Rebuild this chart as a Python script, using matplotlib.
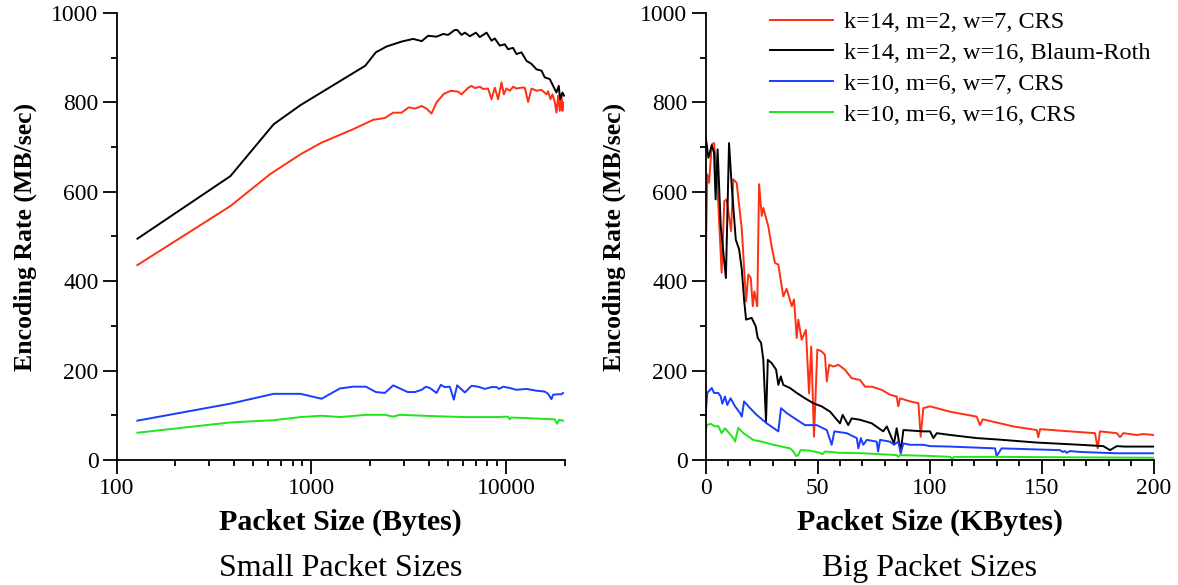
import matplotlib
matplotlib.use("Agg")
import matplotlib.pyplot as plt
from matplotlib.ticker import MultipleLocator, LogLocator, NullFormatter, FixedLocator

plt.rcParams['font.family'] = ['Liberation Serif', 'DejaVu Serif']

#---Data: small packet sizes (bytes) -----------------------------------
small_black_x = [128, 384, 640, 880, 1890, 2140, 2430, 2900, 3330, 3680, 3970, 4390, 4740,
                 5030, 5440, 5600, 5890, 6130, 6500, 6980, 7310, 7920, 8400, 8730, 9260, 9820,
                 10210, 10830, 11280, 11960, 12690, 13470, 14280, 15160, 15740, 16720, 17390,
                 18080, 18590, 18880, 19420, 19780]
small_black_y = [495, 635, 751, 794, 882, 912, 925, 936, 942, 937, 949, 947, 953,
                 951, 962, 962, 951, 956, 948, 956, 946, 956, 938, 943, 927, 930,
                 919, 922, 908, 912, 893, 886, 874, 871, 856, 852, 837,
                 822, 837, 807, 822, 815]

small_red_x = [128, 384, 612, 880, 1128, 1638, 2075, 2382, 2627, 2900, 3162, 3395, 3680,
               3897, 4133, 4387, 4780, 5190, 5660, 5893, 6347, 6630, 6893, 7313, 7603, 8066,
               8400, 8730, 9078, 9450, 9710, 10020, 10420, 10840, 11280, 11970, 12440, 12940,
               13470, 14280, 15150, 16080, 16380, 16860, 17260, 17740, 18090, 18440, 18810,
               19190, 19420, 19560]
small_red_y = [436, 568, 639, 684, 710, 740, 761, 765, 777, 777, 789, 786, 792,
               786, 775, 800, 819, 826, 824, 818, 832, 837, 832, 835, 830, 831,
               807, 833, 807, 845, 818, 831, 826, 835, 831, 833, 833, 801,
               831, 826, 828, 818, 825, 807, 818, 800, 777, 815, 781,
               818, 781, 800]

small_blue_x = [128, 384, 640, 880, 1128, 1400, 1638, 1903, 2142, 2382, 2627, 3120, 3395,
                3680, 3870, 4053, 4387, 4614, 4837, 5130, 5380, 5595, 6127, 6630, 7170, 7760,
                8400, 8910, 9185, 9630, 10420, 11280, 12690, 13470, 14280, 15750, 16380,
                17050, 17380, 18440, 19190, 19560]
small_blue_y = [88, 126, 148, 148, 137, 160, 164, 164, 152, 150, 167, 152, 152,
                157, 164, 161, 150, 168, 163, 164, 135, 167, 151, 166, 164, 159,
                163, 163, 159, 164, 161, 157, 159, 157, 155, 153, 148,
                136, 146, 147, 147, 150]

small_green_x = [128, 384, 640, 880, 1128, 1400, 1903, 2382, 2627, 2843, 3743, 5130, 6127,
                 8910, 10210, 10420, 10630, 13720, 17740, 18220, 18660, 19560]
small_green_y = [61, 84, 89, 96, 99, 96, 101, 101, 97, 101, 99, 97, 96,
                 96, 97, 91, 95, 93, 91, 81, 90, 88]

#---Data: big packet sizes (KBytes) ------------------------------------
big_red_x = [0, 0.8, 1.6, 2.8, 3.8, 5, 7.2, 8.4, 9.4, 11.4, 12.4, 13.9, 16.2, 18.1, 19.1,
             20.2, 21.1, 21.8, 23.1, 23.9, 25.1, 25.8, 28, 29.5, 31, 32.5, 34.7, 36.2, 38.5,
             39.5, 40.7, 41.4, 42.9, 44.8, 46.2, 47.2, 48.4, 49.9, 51.8, 53.3, 54.1, 55.2,
             57, 59.3, 62.2, 65.2, 68.9, 71.2, 74.2, 78.6, 82.3, 85.3, 86, 86.8, 91.3, 95,
             96, 97.2, 100.2, 109.1, 121, 122.5, 123.7, 137.4, 147.8, 148.5, 149.3, 162.6,
             173.8, 175, 176, 183.5, 185, 186.4, 192.4, 195.4, 200]
big_red_y = [411, 639, 620, 706, 709, 643, 419, 579, 583, 512, 628, 620, 516, 355, 415,
             407, 344, 377, 344, 617, 546, 564, 523, 478, 441, 437, 366, 383, 344,
             359, 273, 314, 269, 291, 149, 254, 52, 247, 243, 235, 176, 213,
             209, 213, 202, 183, 179, 164, 164, 157, 146, 142, 120, 138, 131, 127,
             52, 116, 120, 108, 97, 78, 91, 75, 67, 51, 69, 64,
             60, 26, 64, 60, 51, 60, 56, 58, 56]

big_black_x = [0.2, 1.3, 2.8, 3.8, 4.5, 5.4, 6.8, 9.1, 10.5, 11.7, 13.5, 15, 16.2, 17.2,
               18.1, 20.6, 22.4, 23.3, 24.8, 25.8, 27, 27.8, 29.5, 31.5, 32.5, 33.6, 34.7,
               37.7, 40.7, 44.4, 48.1, 51.8, 55.6, 60, 61.2, 63.7, 65.2, 68.9, 74.2, 79.3,
               80.9, 84.1, 85.3, 87.1, 88.3, 97.2, 100.2, 101.7, 103.2, 109.1, 121, 129.9,
               147.8, 167.1, 177.5, 180.5, 183.5, 186.9, 200]
big_black_y = [719, 676, 704, 688, 583, 695, 523, 407, 709, 613, 493, 471, 426, 359,
               314, 318, 299, 273, 262, 224, 86, 224, 217, 202, 168, 187, 168,
               161, 150, 138, 127, 120, 108, 82, 101, 78, 93, 90, 82, 64,
               75, 37, 71, 19, 67, 64, 64, 49, 60, 56, 49, 46,
               39, 34, 31, 22, 31, 30, 30]

big_blue_x = [0, 0.8, 2.8, 3.8, 5.7, 6.8, 7.5, 8.7, 9.7, 11.2, 13.2, 15.4, 16.2, 17.2,
              19.9, 22.8, 27.3, 32.5, 33.7, 36.2, 40.7, 44.4, 49.6, 54.1, 56.3, 57.5, 63,
              67.5, 68.2, 69.3, 70.4, 72, 76.4, 77, 77.9, 82.3, 84.1, 86, 87.1, 88.3, 91.3,
              97.2, 100.2, 109.1, 129.2, 129.9, 132.1, 158.2, 159.4, 160.4, 161.2, 162.6,
              167.1, 183.5, 200]
big_blue_y = [97, 150, 161, 150, 150, 142, 126, 142, 123, 138, 120, 105, 97, 131,
              116, 101, 82, 64, 116, 105, 90, 78, 78, 67, 34, 64, 60,
              49, 26, 49, 34, 45, 41, 19, 45, 41, 34, 41, 15, 37, 34,
              34, 31, 30, 26, 9, 26, 22, 18, 20, 16, 20,
              18, 15, 15]

big_green_x = [0, 0.5, 2.3, 4.3, 5.7, 7.2, 8.7, 12.4, 13.2, 14.6, 16.9, 21.3, 25.1, 30.3,
               37.7, 39.2, 40.4, 41.4, 42.4, 46.6, 51, 52.2, 53.3, 60, 70.4, 85.3, 86, 86.8,
               100.2, 109.1, 110, 111, 129.9, 162.6, 200]
big_green_y = [60, 78, 81, 75, 76, 60, 71, 49, 41, 72, 60, 45, 41, 34,
               26, 19, 9, 11, 22, 21, 16, 13, 19, 16, 15, 11, 7, 11,
               9, 7, 3, 7, 7, 6, 5]

series_labels = ["k=14, m=2, w=7, CRS", "k=14, m=2, w=16, Blaum-Roth",
                 "k=10, m=6, w=7, CRS", "k=10, m=6, w=16, CRS"]
series_colors = ["#ff3011", "black", "#1a3cff", "#1ee61a"]


def style_axes(ax):
    for side in ("top", "right"):
        ax.spines[side].set_visible(False)
    for side in ("left", "bottom"):
        ax.spines[side].set_linewidth(1.3)
    ax.set_ylim(0, 1000)
    ax.yaxis.set_major_locator(MultipleLocator(200))
    ax.yaxis.set_minor_locator(MultipleLocator(100))
    ax.tick_params(which="major", direction="out", length=10, width=1.3, labelsize=17, pad=3)
    ax.tick_params(which="minor", direction="out", length=4.5, width=1.3)
    ax.set_ylabel("Encoding Rate (MB/sec)", fontsize=18.5, fontweight="bold")


fig = plt.figure(figsize=(11.78, 5.85), dpi=100)
ax1 = fig.add_axes([0.0989, 0.2137, 0.3807, 0.7641])
ax2 = fig.add_axes([0.5989, 0.2137, 0.3805, 0.7641])

small = [(small_red_x, small_red_y), (small_black_x, small_black_y),
         (small_blue_x, small_blue_y), (small_green_x, small_green_y)]
big = [(big_red_x, big_red_y), (big_black_x, big_black_y),
       (big_blue_x, big_blue_y), (big_green_x, big_green_y)]

for (xs, ys), col, lab in zip(small, series_colors, series_labels):
    ax1.plot(xs, ys, color=col, lw=1.4, label=lab)
for (xs, ys), col, lab in zip(big, series_colors, series_labels):
    ax2.plot(xs, ys, color=col, lw=1.4, label=lab)

# left: log scale
ax1.set_xscale("log")
ax1.set_xlim(100, 20000)
ax1.xaxis.set_major_locator(FixedLocator([100, 1000, 10000]))
ax1.xaxis.set_minor_locator(LogLocator(base=10, subs=range(2, 10)))
ax1.xaxis.set_minor_formatter(NullFormatter())
ax1.set_xticklabels(["100", "1000", "10000"])
style_axes(ax1)
ax1.set_xlabel("Packet Size (Bytes)", fontsize=21.5, fontweight="bold")

# right: linear
ax2.set_xlim(0, 200)
ax2.xaxis.set_major_locator(MultipleLocator(50))
ax2.xaxis.set_minor_locator(MultipleLocator(10))
style_axes(ax2)
ax2.set_xlabel("Packet Size (KBytes)", fontsize=21.5, fontweight="bold")

for ax in (ax1, ax2):
    ax.xaxis.set_label_coords(0.5, -0.11)
    ax.yaxis.set_label_coords(-0.177, 0.5)

ax1.text(0.5, -0.242, "Small Packet Sizes", transform=ax1.transAxes,
         ha="center", va="center", fontsize=23)
ax2.text(0.5, -0.242, "Big Packet Sizes", transform=ax2.transAxes,
         ha="center", va="center", fontsize=23)

ax2.legend(loc="upper left", bbox_to_anchor=(0.144, 1.004), frameon=False,
           fontsize=17.5, handlelength=2.6, handletextpad=0.45, labelspacing=0.36,
           borderpad=0, borderaxespad=0)

fig.savefig("out.png", dpi=100)
